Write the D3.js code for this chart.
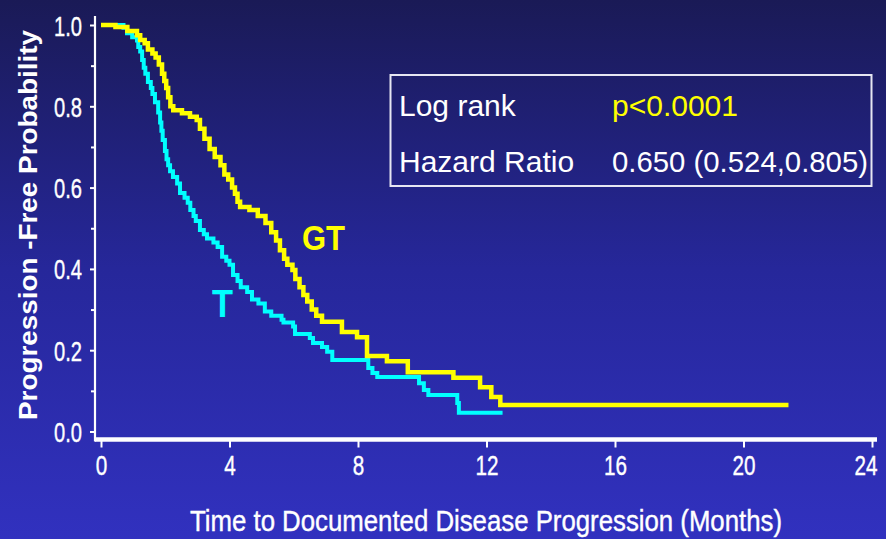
<!DOCTYPE html>
<html>
<head>
<meta charset="utf-8">
<script src="https://cdn.jsdelivr.net/npm/d3@7"></script>
<style>
  html, body { margin: 0; padding: 0; background: #1b1b5a; }
  svg { display: block; }
  .arial { font-family: "Liberation Sans", Arial, sans-serif; }
</style>
</head>
<body>
<svg id="chart" width="886" height="539"></svg>
<script>
// Kaplan-Meier progression-free survival, GT arm vs T arm
// Each series: event times (months) and the survival value after that time
const gtTimes = [0, 0.45, 0.82, 1.12, 1.22, 1.36, 1.46, 1.6, 1.7, 1.8, 1.9, 1.97, 2.03, 2.09, 2.16, 2.25, 2.52, 2.77, 2.98, 3.08, 3.22, 3.38, 3.54, 3.72, 3.84, 3.96, 4.08, 4.17, 4.25, 4.33, 4.62, 4.88, 5.12, 5.3, 5.45, 5.57, 5.7, 5.8, 5.96, 6.05, 6.18, 6.3, 6.42, 6.56, 6.7, 6.88, 7.5, 7.97, 8.28, 8.9, 9.55, 10.97, 11.8, 12.15, 12.43];
const gtSurv  = [1.0, 0.995, 0.985, 0.975, 0.963, 0.955, 0.94, 0.93, 0.92, 0.903, 0.88, 0.862, 0.845, 0.822, 0.8, 0.79, 0.783, 0.774, 0.766, 0.745, 0.72, 0.695, 0.675, 0.655, 0.632, 0.62, 0.6, 0.585, 0.565, 0.552, 0.545, 0.53, 0.513, 0.49, 0.47, 0.446, 0.425, 0.41, 0.397, 0.375, 0.355, 0.336, 0.32, 0.3, 0.285, 0.27, 0.245, 0.232, 0.186, 0.173, 0.146, 0.132, 0.109, 0.085, 0.065];
const gtLast  = 21.4;

const tTimes = [0, 0.7, 0.81, 0.97, 1.12, 1.16, 1.22, 1.28, 1.33, 1.38, 1.46, 1.55, 1.6, 1.68, 1.78, 1.84, 1.88, 1.92, 1.99, 2.04, 2.09, 2.15, 2.24, 2.37, 2.46, 2.6, 2.7, 2.78, 2.88, 2.95, 3.08, 3.2, 3.3, 3.5, 3.63, 3.77, 3.9, 4.0, 4.11, 4.25, 4.35, 4.55, 4.7, 4.9, 5.1, 5.3, 5.62, 5.68, 5.98, 6.04, 6.5, 6.6, 6.88, 7.04, 7.2, 8.32, 8.45, 8.6, 9.9, 10.05, 10.19, 11.09, 11.14];
const tSurv  = [1.0, 0.993, 0.98, 0.97, 0.962, 0.946, 0.935, 0.914, 0.895, 0.88, 0.86, 0.845, 0.83, 0.81, 0.785, 0.76, 0.74, 0.717, 0.69, 0.67, 0.655, 0.64, 0.626, 0.61, 0.587, 0.575, 0.563, 0.545, 0.53, 0.518, 0.496, 0.485, 0.475, 0.465, 0.454, 0.43, 0.42, 0.41, 0.385, 0.37, 0.355, 0.343, 0.325, 0.315, 0.295, 0.285, 0.275, 0.268, 0.258, 0.24, 0.23, 0.218, 0.208, 0.196, 0.176, 0.156, 0.144, 0.134, 0.119, 0.102, 0.09, 0.07, 0.046];
const tLast  = 12.5;

const xTicks = [0, 4, 8, 12, 16, 20, 24];
const yTicks = [0, 0.2, 0.4, 0.6, 0.8, 1.0];
const yMinor = [0.1, 0.3, 0.5, 0.7, 0.9];

const xTitle = "Time to Documented Disease Progression (Months)";
const yTitle = "Progression -Free Probability";
const statRows = [
  { label: "Log rank", value: "p<0.0001", color: "#ffff00" },
  { label: "Hazard Ratio", value: "0.650 (0.524,0.805)", color: "#ffffff" }
];

const svg = d3.select("#chart");

// background: dark navy at the top fading to royal blue
const defs = svg.append("defs");
const grad = defs.append("linearGradient").attr("id", "bg").attr("x1", 0).attr("y1", 0).attr("x2", 0).attr("y2", 1);
grad.append("stop").attr("offset", "0%").attr("stop-color", "#1a1a56");
grad.append("stop").attr("offset", "50%").attr("stop-color", "#26279a");
grad.append("stop").attr("offset", "100%").attr("stop-color", "#3131bf");
svg.append("rect").attr("width", 886).attr("height", 539).attr("fill", "url(#bg)");

const x = d3.scaleLinear().domain([0, 24]).range([101, 872]);
const y = d3.scaleLinear().domain([0, 1]).range([431.5, 25]);

const axisX = 95;     // vertical axis line position
const axisY = 439.5;  // horizontal axis line position

// condensed numerals: squeeze each label to a narrow width
function narrowWidth(s) {
  let w = 0;
  for (const c of s) w += (c === "." ? 5 : 11.5);
  return w;
}
function condense(sel) {
  sel.attr("textLength", function () { return narrowWidth(this.textContent); })
     .attr("lengthAdjust", "spacingAndGlyphs");
}

// y axis
const yAxis = svg.append("g").attr("transform", `translate(${axisX},0)`)
  .call(d3.axisLeft(y).tickValues(yTicks).tickFormat(d3.format(".1f")).tickSize(5).tickPadding(8));
yAxis.select(".domain").remove();
yAxis.selectAll("line").attr("stroke", "#fff").attr("stroke-width", 2);
yAxis.selectAll("text").attr("class", "arial").attr("fill", "#fff")
  .style("font-size", "28px").attr("dy", "0.36em")
  .attr("stroke", "#fff").attr("stroke-width", 0.4).call(condense);
const yMinorAxis = svg.append("g").attr("transform", `translate(${axisX},0)`)
  .call(d3.axisLeft(y).tickValues(yMinor).tickFormat("").tickSize(4));
yMinorAxis.select(".domain").remove();
yMinorAxis.selectAll("line").attr("stroke", "#fff").attr("stroke-width", 2);
svg.append("line").attr("x1", axisX).attr("x2", axisX).attr("y1", 16).attr("y2", axisY + 2)
  .attr("stroke", "#fff").attr("stroke-width", 2.2);

// x axis
const xAxis = svg.append("g").attr("transform", `translate(0,${axisY + 1})`)
  .call(d3.axisBottom(x).tickValues(xTicks).tickFormat(d3.format("d")).tickSize(7).tickPadding(7));
xAxis.select(".domain").remove();
xAxis.selectAll("line").attr("stroke", "#fff").attr("stroke-width", 2);
xAxis.selectAll("text").attr("class", "arial").attr("fill", "#fff")
  .style("font-size", "28px").attr("dy", "0.72em")
  .attr("stroke", "#fff").attr("stroke-width", 0.4).call(condense);
// the last label is right-aligned so it stays inside the frame
xAxis.selectAll(".tick").filter(d => d === 24).select("text")
  .attr("text-anchor", "end").attr("dx", 5);
svg.append("line").attr("x1", axisX).attr("x2", 877).attr("y1", axisY).attr("y2", axisY)
  .attr("stroke", "#fff").attr("stroke-width", 4.5);

// axis titles
svg.append("text").attr("class", "arial").attr("x", 486).attr("y", 531)
  .attr("text-anchor", "middle").attr("fill", "#fff").style("font-size", "30px")
  .attr("stroke", "#fff").attr("stroke-width", 0.4)
  .attr("textLength", 592).attr("lengthAdjust", "spacingAndGlyphs")
  .text(xTitle);
svg.append("text").attr("class", "arial")
  .attr("transform", "translate(37,225) rotate(-90)")
  .attr("text-anchor", "middle").attr("fill", "#fff")
  .style("font-size", "25px").style("font-weight", "bold")
  .attr("textLength", 390).attr("lengthAdjust", "spacingAndGlyphs")
  .text(yTitle);

// survival step curves
function stepPoints(times, surv, last) {
  const pts = times.map((t, i) => [t, surv[i]]);
  pts.push([last, surv[surv.length - 1]]);
  return pts;
}
const line = d3.line().x(d => x(d[0])).y(d => y(d[1])).curve(d3.curveStepAfter);

svg.append("path").datum(stepPoints(tTimes, tSurv, tLast))
  .attr("d", line).attr("fill", "none").attr("stroke", "#00ffff")
  .attr("stroke-width", 4).attr("stroke-linejoin", "miter");
svg.append("path").datum(stepPoints(gtTimes, gtSurv, gtLast))
  .attr("d", line).attr("fill", "none").attr("stroke", "#ffff00")
  .attr("stroke-width", 4.5).attr("stroke-linejoin", "miter");

// curve labels
svg.append("text").attr("class", "arial").attr("x", 302).attr("y", 250)
  .attr("fill", "#ffff00").style("font-size", "35px").style("font-weight", "bold")
  .attr("textLength", 43).attr("lengthAdjust", "spacingAndGlyphs").text("GT");
svg.append("text").attr("class", "arial").attr("x", 212).attr("y", 317)
  .attr("fill", "#00ffff").style("font-size", "38px").style("font-weight", "bold")
  .attr("textLength", 21).attr("lengthAdjust", "spacingAndGlyphs").text("T");

// statistics box
svg.append("rect").attr("x", 390.5).attr("y", 75).attr("width", 481).attr("height", 111)
  .attr("fill", "none").attr("stroke", "#e6e6f2").attr("stroke-width", 2);
const rows = svg.append("g").attr("class", "arial").style("font-size", "30px");
statRows.forEach((r, i) => {
  const by = 116 + i * 55.5;
  rows.append("text").attr("x", 399).attr("y", by).attr("fill", "#fff").text(r.label);
  rows.append("text").attr("x", 612).attr("y", by).attr("fill", r.color)
    .attr("textLength", r.value.length > 10 ? 256 : null)
    .attr("lengthAdjust", "spacingAndGlyphs").text(r.value);
});
</script>
</body>
</html>
